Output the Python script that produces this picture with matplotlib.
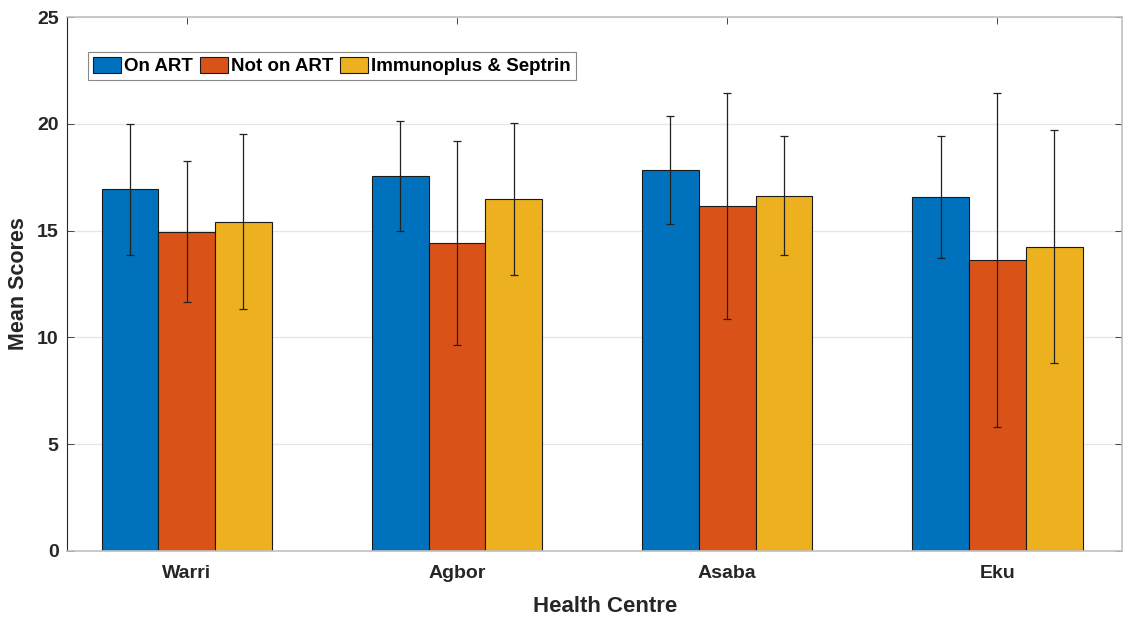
import matplotlib.pyplot as plt
import numpy as np

plt.rcParams['font.family'] = ['Liberation Sans', 'DejaVu Sans']
plt.rcParams['font.weight'] = 'bold'

# data
centres = ['Warri', 'Agbor', 'Asaba', 'Eku']
series = ['On ART', 'Not on ART', 'Immunoplus & Septrin']
on_art = [16.93, 17.57, 17.85, 16.56]
not_on_art = [14.95, 14.41, 16.15, 13.62]
immuno = [15.42, 16.49, 16.63, 14.25]
on_art_sd = [3.07, 2.58, 2.53, 2.85]
not_on_art_sd = [3.30, 4.77, 5.30, 7.80]
immuno_sd = [4.10, 3.55, 2.78, 5.45]

colors = ['#0072BD', '#D95319', '#EDB120']

fig = plt.figure(figsize=(11.3, 6.17), dpi=100)
ax = fig.add_axes([0.0593, 0.107, 0.9336, 0.8654])

x = np.arange(1, len(centres) + 1)
w = 0.21
vals = [on_art, not_on_art, immuno]
sds = [on_art_sd, not_on_art_sd, immuno_sd]
for i, (v, s) in enumerate(zip(vals, sds)):
    pos = x + (i - 1) * w
    ax.bar(pos, v, width=w, color=colors[i], edgecolor='#1a1a1a',
           linewidth=0.8, label=series[i], zorder=2)
    ax.errorbar(pos, v, yerr=s, fmt='none', ecolor='#222222',
                elinewidth=0.9, capsize=3, capthick=0.9, zorder=3)

ax.set_xlim(0.557, 4.461)
ax.set_ylim(0, 25)
ax.set_yticks([0, 5, 10, 15, 20, 25])
ax.set_xticks(x)
ax.set_xticklabels(centres)
ax.tick_params(axis='both', direction='in', top=True, right=True,
               labelsize=14, color='#444444', length=5, width=0.7)
ax.tick_params(axis='x', pad=10)
ax.tick_params(axis='y', pad=6)
for lab in ax.get_xticklabels() + ax.get_yticklabels():
    lab.set_fontweight('bold')
    lab.set_color('#262626')

ax.yaxis.grid(True, color='#e6e6e6', linewidth=0.9, zorder=0)
ax.set_axisbelow(True)

ax.spines['left'].set_color('#262626')
ax.spines['left'].set_linewidth(0.8)
for sp in ['top', 'bottom', 'right']:
    ax.spines[sp].set_color('#c0c0c0')
    ax.spines[sp].set_linewidth(1.2)

ax.set_xlabel('Health Centre', fontsize=16, fontweight='bold',
              color='#262626')
ax.xaxis.set_label_coords(0.51, -0.085)
ax.set_ylabel('Mean Scores', fontsize=15.5, fontweight='bold',
              color='#262626')
ax.yaxis.set_label_coords(-0.036, 0.5)

leg = ax.legend(loc='upper left', bbox_to_anchor=(0.02, 0.934), ncol=3,
                fancybox=False, framealpha=1, edgecolor='#888888',
                fontsize=13.5, handlelength=1.5, handleheight=0.95,
                handletextpad=0.16, columnspacing=0.37, borderpad=0.25,
                borderaxespad=0)
leg.get_frame().set_linewidth(0.8)
for t in leg.get_texts():
    t.set_fontweight('bold')

fig.savefig('out.png', dpi=100)
